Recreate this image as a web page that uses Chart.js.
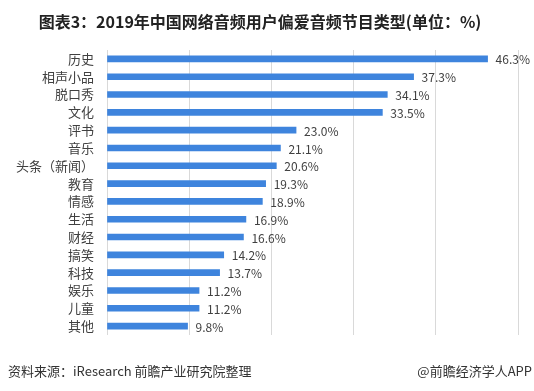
<!DOCTYPE html>
<html>
<head>
<meta charset="utf-8">
<script src="https://cdn.jsdelivr.net/npm/chart.js@4"></script>
<style>
  html, body { margin: 0; padding: 0; background: #fff; }
  #wrap { position: relative; width: 534px; height: 391px; overflow: hidden; }
  #chart { position: absolute; left: 0; top: 0; }
  .title {
    position: absolute; left: 0; top: 9px; width: 520px; text-align: center;
    font: bold 16px "Noto Sans CJK SC", sans-serif; color: #222;
  }
  .src {
    position: absolute; left: 8px; top: 361px;
    font: 13px "Noto Sans CJK SC", sans-serif; color: #333;
  }
  .brand {
    position: absolute; right: 2px; top: 361px;
    font: 13px "Noto Sans CJK SC", sans-serif; color: #333;
  }
</style>
</head>
<body>
<div id="wrap">
  <canvas id="chart" width="534" height="391"></canvas>
  <div class="title">图表3：2019年中国网络音频用户偏爱音频节目类型(单位：%)</div>
  <div class="src">资料来源：iResearch 前瞻产业研究院整理</div>
  <div class="brand">@前瞻经济学人APP</div>
</div>
<script>
// ── data ──────────────────────────────────────────────
const categories = ['历史', '相声小品', '脱口秀', '文化', '评书', '音乐', '头条（新闻）',
    '教育', '情感', '生活', '财经', '搞笑', '科技', '娱乐', '儿童', '其他'];
const shares = [46.3, 37.3, 34.1, 33.5, 23.0, 21.1, 20.6, 19.3, 18.9, 16.9, 16.6, 14.2, 13.7, 11.2, 11.2, 9.8];
const axisMax = 50;
const axisStep = 10;

// value labels at the end of each bar
const valueLabels = {
    id: 'valueLabels',
    afterDatasetsDraw(chart) {
        const ctx = chart.ctx;
        const meta = chart.getDatasetMeta(0);
        ctx.save();
        ctx.font = '12px "Noto Sans CJK SC", sans-serif';
        ctx.fillStyle = '#404040';
        ctx.textAlign = 'left';
        ctx.textBaseline = 'middle';
        meta.data.forEach(function (bar, i) {
            ctx.fillText(shares[i].toFixed(1) + '%', bar.x + 8, bar.y + 1);
        });
        ctx.restore();
    }
};

new Chart(document.getElementById('chart'), {
    type: 'bar',
    data: {
        labels: categories,
        datasets: [{
            data: shares,
            backgroundColor: '#3e84dd',
            barThickness: 6
        }]
    },
    options: {
        indexAxis: 'y',
        responsive: false,
        animation: false,
        layout: { padding: { top: 50, bottom: 56, right: 16, left: 0 } },
        plugins: {
            legend: { display: false },
            tooltip: { enabled: false }
        },
        scales: {
            x: {
                min: 0,
                max: axisMax,
                ticks: { display: false, stepSize: axisStep },
                grid: { color: '#d9d9d9', drawTicks: false },
                border: { display: false },
                afterFit: function (s) { s.height = 0; }
            },
            y: {
                ticks: {
                    autoSkip: false,
                    color: '#404040',
                    padding: 13,
                    font: { size: 13, family: '"Noto Sans CJK SC", sans-serif' }
                },
                grid: { display: false, drawTicks: false },
                border: { display: false },
                afterFit: function (s) { s.width = 107; }
            }
        }
    },
    plugins: [valueLabels]
});
</script>
</body>
</html>
